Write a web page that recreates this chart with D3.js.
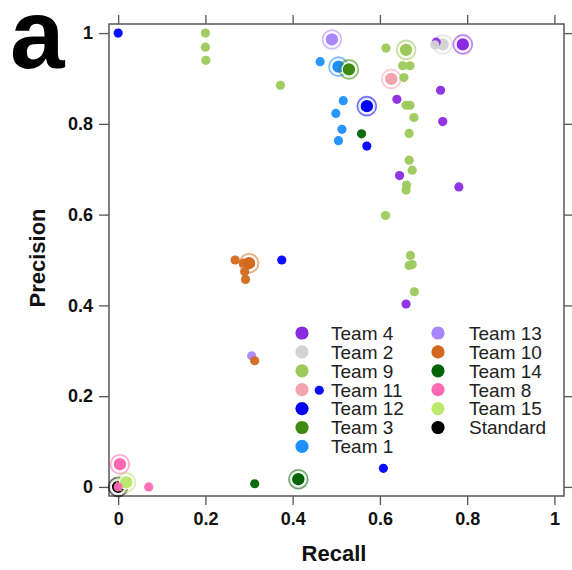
<!DOCTYPE html>
<html>
<head>
<meta charset="utf-8">
<script src="https://cdn.jsdelivr.net/npm/d3@7"></script>
<style>
  html, body { margin: 0; padding: 0; background: #fff; }
  svg { display: block; font-family: "Liberation Sans", Arial, Helvetica, sans-serif; }
</style>
</head>
<body>
<svg id="chart" width="572" height="570"></svg>
<script>
// ---------------- data ----------------
const teams = ["Team 4", "Team 2", "Team 9", "Team 11", "Team 12", "Team 3", "Team 1",
               "Team 13", "Team 10", "Team 14", "Team 8", "Team 15", "Standard"];
const teamColors = ["#8a2be2", "#d3d3d3", "#9bc95a", "#f2a3ae", "#0000ff", "#3f8a12", "#1e90ff",
                    "#a986fb", "#d2691e", "#006400", "#ff69b4", "#b9ea6e", "#000000"];

// individual runs: [team, recall, precision]
const runs = [
  ["Team 4", 0.729, 0.980], ["Team 4", 0.639, 0.854], ["Team 4", 0.739, 0.874],
  ["Team 4", 0.744, 0.805], ["Team 4", 0.645, 0.686], ["Team 4", 0.781, 0.661],
  ["Team 4", 0.660, 0.403],
  ["Team 2", 0.726, 0.974],
  ["Team 9", 0.200, 1.000], ["Team 9", 0.200, 0.969], ["Team 9", 0.201, 0.940],
  ["Team 9", 0.372, 0.885], ["Team 9", 0.614, 0.967], ["Team 9", 0.652, 0.928],
  ["Team 9", 0.669, 0.928], ["Team 9", 0.655, 0.902], ["Team 9", 0.660, 0.841],
  ["Team 9", 0.669, 0.841], ["Team 9", 0.678, 0.814], ["Team 9", 0.667, 0.779],
  ["Team 9", 0.667, 0.720], ["Team 9", 0.674, 0.698], ["Team 9", 0.661, 0.665],
  ["Team 9", 0.660, 0.654], ["Team 9", 0.613, 0.598], ["Team 9", 0.670, 0.510],
  ["Team 9", 0.667, 0.488], ["Team 9", 0.674, 0.490], ["Team 9", 0.679, 0.430],
  ["Team 12", 0.000, 1.000], ["Team 12", 0.375, 0.500], ["Team 12", 0.461, 0.213],
  ["Team 12", 0.608, 0.041], ["Team 12", 0.570, 0.751],
  ["Team 1", 0.463, 0.937], ["Team 1", 0.516, 0.851], ["Team 1", 0.499, 0.823],
  ["Team 1", 0.513, 0.788], ["Team 1", 0.505, 0.763],
  ["Team 13", 0.306, 0.289],
  ["Team 10", 0.268, 0.500], ["Team 10", 0.287, 0.493], ["Team 10", 0.290, 0.474],
  ["Team 10", 0.292, 0.457], ["Team 10", 0.313, 0.278],
  ["Team 14", 0.558, 0.778], ["Team 14", 0.313, 0.007],
  ["Team 8", 0.070, 0.000], ["Team 8", 0.000, 0.000],
  ["Team 15", 0.022, 0.012]
];

// best run of each team (ringed markers): [team, recall, precision]
const best = [
  ["Standard", 0.000, 0.000], ["Team 15", 0.018, 0.010], ["Team 8", 0.004, 0.050],
  ["Team 14", 0.413, 0.017], ["Team 10", 0.300, 0.493], ["Team 13", 0.490, 0.986],
  ["Team 1", 0.505, 0.926], ["Team 3", 0.529, 0.920], ["Team 12", 0.570, 0.839],
  ["Team 11", 0.626, 0.899], ["Team 9", 0.660, 0.963], ["Team 2", 0.744, 0.975],
  ["Team 4", 0.790, 0.975]
];

const axisTicks = [0, 0.2, 0.4, 0.6, 0.8, 1];
const tickLabels = ["0", "0.2", "0.4", "0.6", "0.8", "1"];

// ---------------- chart ----------------
const svg = d3.select("#chart");
const box = { left: 109, top: 24, right: 564, bottom: 496 };

const x = d3.scaleLinear().domain([-0.021, 1.022]).range([box.left, box.right]);
const y = d3.scaleLinear().domain([-0.02, 1.02]).range([box.bottom, box.top]);
const color = d3.scaleOrdinal().domain(teams).range(teamColors);
const fmt = d => tickLabels[axisTicks.indexOf(d)];

const axisColor = "#555";

function styleAxis(g) {
  g.select(".domain").remove();
  g.selectAll(".tick line").attr("stroke", axisColor).attr("stroke-width", 1.3);
  g.selectAll(".tick text").attr("fill", "#111").attr("font-size", 18).attr("font-weight", "bold")
    .attr("font-family", "'Liberation Sans', Arial, sans-serif");
}

svg.append("g").attr("transform", `translate(0,${box.bottom})`)
  .call(d3.axisBottom(x).tickValues(axisTicks).tickFormat(fmt).tickSize(9).tickPadding(7))
  .call(styleAxis);
svg.append("g").attr("transform", `translate(${box.left},0)`)
  .call(d3.axisLeft(y).tickValues(axisTicks).tickFormat(fmt).tickSize(10).tickPadding(6))
  .call(styleAxis);
svg.append("g").attr("transform", `translate(0,${box.top})`)
  .call(d3.axisTop(x).tickValues(axisTicks).tickFormat("").tickSize(9))
  .call(styleAxis);
svg.append("g").attr("transform", `translate(${box.right},0)`)
  .call(d3.axisRight(y).tickValues(axisTicks).tickFormat("").tickSize(9))
  .call(styleAxis);

svg.append("rect")
  .attr("x", box.left).attr("y", box.top)
  .attr("width", box.right - box.left).attr("height", box.bottom - box.top)
  .attr("fill", "none").attr("stroke", axisColor).attr("stroke-width", 1.5);

// best (ringed) markers
const bestG = svg.append("g");
best.forEach(([t, r, p]) => {
  const c = color(t);
  bestG.append("circle")
    .attr("cx", x(r)).attr("cy", y(p)).attr("r", 9.5)
    .attr("fill", c).attr("fill-opacity", 0.12)
    .attr("stroke", c).attr("stroke-opacity", 0.55).attr("stroke-width", 1.6);
  bestG.append("circle")
    .attr("cx", x(r)).attr("cy", y(p)).attr("r", 6.8)
    .attr("fill", c).attr("stroke", "#fff").attr("stroke-width", 1.2);
});

// individual runs
svg.append("g").selectAll("circle").data(runs).join("circle")
  .attr("cx", d => x(d[1])).attr("cy", d => y(d[2])).attr("r", 4.6)
  .attr("fill", d => color(d[0])).attr("fill-opacity", 0.95);

// axis titles
svg.append("text").attr("x", 334).attr("y", 561).attr("text-anchor", "middle")
  .attr("font-size", 22).attr("font-weight", "bold").attr("fill", "#111").text("Recall");
svg.append("text").attr("transform", "translate(45,258) rotate(-90)").attr("text-anchor", "middle")
  .attr("font-size", 22).attr("font-weight", "bold").attr("fill", "#111").text("Precision");

// panel letter
svg.append("text").attr("x", 10).attr("y", 68)
  .attr("font-size", 98).attr("font-weight", "bold").attr("fill", "#000").text("a");

// legend
const legendCols = [teams.slice(0, 7), teams.slice(7)];
const colX = [{ dot: 302, text: 331 }, { dot: 438, text: 469 }];
const legend = svg.append("g");
legendCols.forEach((col, ci) => {
  col.forEach((t, ri) => {
    const yy = 333 + ri * 18.9;
    legend.append("circle").attr("cx", colX[ci].dot).attr("cy", yy).attr("r", 6.6).attr("fill", color(t));
    legend.append("text").attr("x", colX[ci].text).attr("y", yy).attr("dy", "0.36em")
      .attr("font-size", 19).attr("fill", "#222").text(t);
  });
});
</script>
</body>
</html>
